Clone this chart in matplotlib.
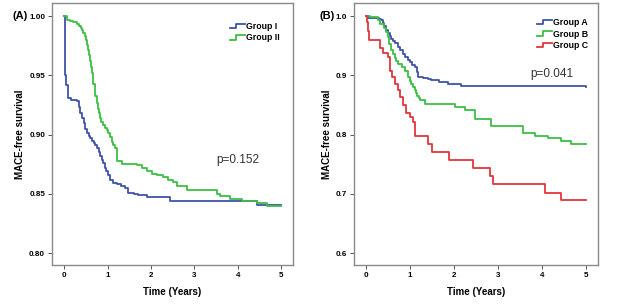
import numpy as np
import matplotlib.pyplot as plt
from matplotlib.legend_handler import HandlerBase
from matplotlib.lines import Line2D

plt.rcParams['font.family'] = ['Liberation Sans', 'DejaVu Sans']

# panel A
tA1 = [0, 0.01, 0.02, 0.03, 0.05, 0.08, 0.1, 0.15, 0.3, 0.34, 0.37, 0.41, 0.45, 0.49, 0.53, 0.57, 0.6, 0.64, 0.68,
       0.72, 0.76, 0.8, 0.83, 0.87, 0.9, 0.94, 0.97, 1.0, 1.06, 1.13, 1.22, 1.3, 1.41, 1.48, 1.6, 1.7, 1.9, 2.44,
       4.45, 5.0]
sA1 = [1.0, 0.98, 0.96, 0.95, 0.942, 0.935, 0.931, 0.929, 0.928, 0.923, 0.918, 0.914, 0.91, 0.905, 0.901, 0.899,
       0.897, 0.895, 0.893, 0.891, 0.889, 0.885, 0.882, 0.879, 0.876, 0.872, 0.869, 0.866, 0.862, 0.859, 0.858,
       0.857, 0.855, 0.851, 0.85, 0.849, 0.847, 0.844, 0.841, 0.841]
tA2 = [0, 0.06, 0.13, 0.2, 0.3, 0.34, 0.38, 0.41, 0.44, 0.47, 0.5, 0.53, 0.56, 0.58, 0.6, 0.62, 0.64, 0.66, 0.67,
       0.7, 0.72, 0.75, 0.78, 0.81, 0.83, 0.86, 0.9, 0.94, 0.98, 1.02, 1.06, 1.1, 1.13, 1.17, 1.22, 1.33, 1.5, 1.68,
       1.8, 1.9, 2.02, 2.14, 2.28, 2.4, 2.51, 2.6, 2.83, 3.52, 3.6, 3.82, 4.1, 4.45, 4.67, 5.0]
sA2 = [1.0, 0.997, 0.996, 0.995, 0.993, 0.992, 0.99, 0.988, 0.986, 0.983, 0.98, 0.976, 0.971, 0.967, 0.962, 0.957,
       0.952, 0.947, 0.943, 0.938, 0.933, 0.927, 0.922, 0.918, 0.914, 0.911, 0.908, 0.906, 0.904, 0.901, 0.898,
       0.894, 0.891, 0.889, 0.878, 0.875, 0.875, 0.874, 0.872, 0.869, 0.867, 0.866, 0.864, 0.862, 0.86, 0.857,
       0.853, 0.85, 0.848, 0.846, 0.844, 0.842, 0.84, 0.84]

# panel B
tB1 = [0, 0.05, 0.3, 0.34, 0.38, 0.42, 0.46, 0.5, 0.54, 0.58, 0.62, 0.66, 0.72, 0.78, 0.84, 0.89, 0.95, 1.0, 1.05,
       1.11, 1.15, 1.18, 1.3, 1.4, 1.48, 1.65, 1.86, 2.16, 5.0]
sB1 = [1.0, 0.997, 0.995, 0.993, 0.988, 0.983, 0.977, 0.971, 0.966, 0.962, 0.958, 0.954, 0.948, 0.942, 0.936,
       0.931, 0.926, 0.922, 0.918, 0.914, 0.905, 0.897, 0.895, 0.894, 0.892, 0.889, 0.886, 0.882, 0.881]
tB2 = [0, 0.1, 0.27, 0.33, 0.4, 0.45, 0.5, 0.53, 0.57, 0.61, 0.65, 0.69, 0.73, 0.81, 0.89, 0.95, 1.0, 1.03, 1.07,
       1.11, 1.14, 1.17, 1.2, 1.23, 1.34, 2.02, 2.25, 2.48, 2.84, 3.57, 3.84, 4.14, 4.43, 4.66, 5.0]
sB2 = [1.0, 0.998, 0.993, 0.987, 0.98, 0.973, 0.965, 0.953, 0.942, 0.936, 0.93, 0.925, 0.92, 0.914, 0.908, 0.897,
       0.891, 0.886, 0.88, 0.875, 0.87, 0.865, 0.861, 0.858, 0.852, 0.846, 0.841, 0.827, 0.815, 0.803, 0.798,
       0.795, 0.79, 0.785, 0.785]
tB3 = [0, 0.03, 0.05, 0.08, 0.32, 0.39, 0.5, 0.55, 0.6, 0.66, 0.72, 0.77, 0.84, 0.91, 1.0, 1.07, 1.11, 1.41, 1.5,
       1.89, 2.43, 2.82, 2.89, 4.07, 4.43, 5.0]
sB3 = [1.0, 0.99, 0.975, 0.96, 0.947, 0.937, 0.931, 0.908, 0.897, 0.886, 0.875, 0.863, 0.85, 0.837, 0.83, 0.822,
       0.798, 0.785, 0.77, 0.758, 0.744, 0.73, 0.717, 0.702, 0.69, 0.69]

c_blue = '#3F54A8'
c_green = '#3DBE45'
c_red = '#E2363D'


class StepHandler(HandlerBase):
    def create_artists(self, legend, orig, xd, yd, w, h, fs, trans):
        x = np.array([0, 0.45, 0.45, 1.0]) * w - xd
        y = np.array([0.15, 0.15, 0.85, 0.85]) * h - yd
        ln = Line2D(x, y, color=orig.get_color(), lw=orig.get_linewidth())
        ln.set_transform(trans)
        return [ln]


fig = plt.figure(figsize=(6.38, 3.06), dpi=100)
axA = fig.add_axes([0.0815, 0.134, 0.378, 0.856])
axB = fig.add_axes([0.555, 0.134, 0.382, 0.856])

lA1, = axA.step(tA1, sA1, where='post', color=c_blue, lw=1.3)
lA2, = axA.step(tA2, sA2, where='post', color=c_green, lw=1.3)
axA.set_xlim(-0.28, 5.28)
axA.set_ylim(0.79, 1.011)
axA.set_yticks([0.80, 0.85, 0.90, 0.95, 1.00])
axA.set_yticklabels(['0.80', '0.85', '0.90', '0.95', '1.00'])
axA.text(4.0, 0.879, 'p=0.152', fontsize=8.5, color='#333333', ha='center', va='center')
axA.legend([lA1, lA2], ['Group I', 'Group II'], handler_map={Line2D: StepHandler()},
           loc='upper right', bbox_to_anchor=(0.962, 0.945), frameon=False, borderpad=0,
           prop={'weight': 'bold', 'size': 6.3}, handlelength=1.75, handletextpad=0.12,
           labelspacing=0.3)

lB1, = axB.step(tB1, sB1, where='post', color=c_blue, lw=1.3)
lB2, = axB.step(tB2, sB2, where='post', color=c_green, lw=1.3)
lB3, = axB.step(tB3, sB3, where='post', color=c_red, lw=1.3)
axB.set_xlim(-0.27, 5.27)
axB.set_ylim(0.58, 1.022)
axB.set_yticks([0.6, 0.7, 0.8, 0.9, 1.0])
axB.set_yticklabels(['0.6', '0.7', '0.8', '0.9', '1.0'])
axB.text(4.23, 0.903, 'p=0.041', fontsize=8.5, color='#333333', ha='center', va='center')
axB.legend([lB1, lB2, lB3], ['Group A', 'Group B', 'Group C'], handler_map={Line2D: StepHandler()},
           loc='upper right', bbox_to_anchor=(0.978, 0.96), frameon=False, borderpad=0,
           prop={'weight': 'bold', 'size': 6.3}, handlelength=1.75, handletextpad=0.12,
           labelspacing=0.3)

for ax in (axA, axB):
    ax.set_xticks(range(6))
    ax.tick_params(labelsize=5.8, length=3, width=0.7, color='#555555', pad=2)
    for lbl in ax.get_xticklabels() + ax.get_yticklabels():
        lbl.set_fontweight('bold')
    for sp in ax.spines.values():
        sp.set_color('#8a8a8a')
        sp.set_linewidth(1.0)
    ax.set_xlabel('Time (Years)', fontsize=7, fontweight='bold', labelpad=6)
    ax.set_ylabel('MACE-free survival', fontsize=7, fontweight='bold', labelpad=3)

axA.text(-0.1, 0.95, '(A)', transform=axA.transAxes, fontsize=8, fontweight='bold',
         ha='right', va='center')
axB.text(-0.08, 0.95, '(B)', transform=axB.transAxes, fontsize=8, fontweight='bold',
         ha='right', va='center')

fig.savefig('out.png', dpi=100)
